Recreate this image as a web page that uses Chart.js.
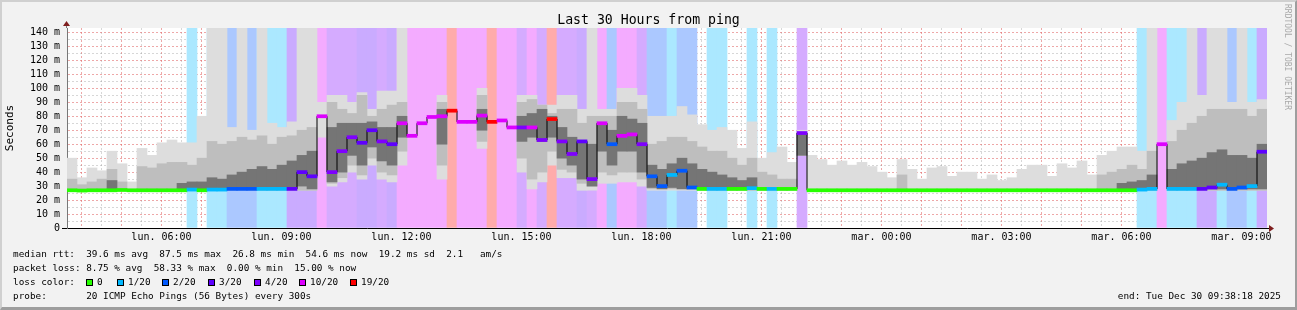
<!DOCTYPE html>
<html>
<head>
<meta charset="utf-8">
<script src="https://cdn.jsdelivr.net/npm/chart.js@4/dist/chart.umd.min.js"></script>
<style>
  body { margin: 0; background: #f2f2f2; }
  #wrap { position: relative; width: 1297px; height: 310px; background: #f2f2f2; overflow: hidden;
          font-family: "DejaVu Sans Mono", monospace; color: #000; }
  #chart { position: absolute; left: 0; top: 0; }
  .txt { position: absolute; white-space: pre; }
  #title { left: 0; width: 1297px; top: 12px; text-align: center; font-size: 13.2px; line-height: 16px; }
  .leg { left: 13px; font-size: 9.35px; line-height: 14px; }
  .sw { position: absolute; width: 5px; height: 5px; border: 1px solid #000; }
  #credit { left: 1283px; top: 4px; font-size: 8px; color: #a9a9a9; writing-mode: vertical-rl; }
  #frame { position: absolute; left: 0; top: 0; width: 1297px; height: 310px; box-sizing: border-box;
           border-top: 2px solid #d0d0d0; border-left: 2px solid #d0d0d0;
           border-right: 2px solid #9e9e9e; border-bottom: 3px solid #9e9e9e; pointer-events: none; }
</style>
</head>
<body>
<div id="wrap">
  <canvas id="chart" width="1297" height="310"></canvas>
  <div id="title" class="txt">Last 30 Hours from ping</div>
  <div id="credit" class="txt">RRDTOOL / TOBI OETIKER</div>
  <div class="txt leg" style="top:247px">median rtt:  39.6 ms avg  87.5 ms max  26.8 ms min  54.6 ms now  19.2 ms sd  2.1   am/s</div>
  <div class="txt leg" style="top:261px">packet loss: 8.75 % avg  58.33 % max  0.00 % min  15.00 % now</div>
  <div class="txt leg" style="top:275px" id="lossLine">loss color:</div>
  <div class="txt leg" style="top:289px">probe:       20 ICMP Echo Pings (56 Bytes) every 300s</div>
  <div class="txt leg" style="top:289px; left:auto; right:16px">end: Tue Dec 30 09:38:18 2025</div>
  <div id="frame"></div>
</div>
<script>
// 120 steps of 15 minutes, from Mon 03:38:18 to Tue 09:38:18
const startHour = 3 + 38 / 60 + 18 / 3600;
const stepHours = 0.25;

// loss level per step (index into lossNames / lossColors)
const lossNames = ["0", "1/20", "2/20", "3/20", "4/20", "10/20", "19/20"];
const lossColors = ["#26ff00", "#00b8ff", "#0059ff", "#5e00ff", "#7e00ff", "#dd00ff", "#ff0000"];
const lossBandColors = [null, "#abe8ff", "#abc8ff", "#caabff", "#d5abff", "#f4abff", "#ffabab"];

const lossLevel = [
  0, 0, 0, 0, 0, 0, 0, 0, 0, 0,
  0, 0, 1, 0, 1, 1, 2, 2, 2, 1,
  1, 1, 3, 3, 3, 5, 4, 4, 4, 3,
  3, 4, 3, 5, 5, 5, 5, 5, 6, 5,
  5, 5, 6, 5, 5, 4, 5, 4, 6, 4,
  4, 3, 4, 5, 2, 5, 5, 4, 2, 2,
  1, 2, 2, 0, 1, 1, 0, 0, 1, 0,
  1, 0, 0, 4, 0, 0, 0, 0, 0, 0,
  0, 0, 0, 0, 0, 0, 0, 0, 0, 0,
  0, 0, 0, 0, 0, 0, 0, 0, 0, 0,
  0, 0, 0, 0, 0, 0, 0, 1, 1, 5,
  1, 1, 1, 3, 3, 1, 2, 2, 1, 3
];

// median rtt (ms)
const medianRtt = [
  27, 26.8, 27, 27, 27, 27.2, 27, 27, 27, 27,
  27, 27, 27.5, 27, 27.5, 27.5, 28, 28, 28, 28,
  28, 28, 28, 40, 37, 80, 40, 55, 65, 61,
  70, 62, 60, 75, 66, 75, 79.5, 80, 84, 76,
  76, 80.5, 76, 77, 72, 72, 72, 63, 78, 62,
  53, 62, 35, 75, 60, 66, 67, 60, 37, 30,
  38, 41, 29, 28, 28, 28, 28, 28, 28.5, 28,
  28, 28, 28, 68, 27, 27, 27, 27, 27, 27,
  27, 27, 27, 27, 27, 27, 27, 27, 27, 27,
  27, 27, 27, 27, 27, 27, 27, 27, 27, 27,
  27, 27, 27, 27, 27, 27, 27, 27.5, 28, 60,
  28, 28, 28, 28, 29, 31, 28, 29, 30, 54.6
];

// smoke: outer range (150 = above the top of the graph)
const smokeMin = [
  27, 27, 27, 27, 27, 27, 27, 27, 27, 27,
  27, 27, 27, 27, 27, 27, 27, 27, 27, 27,
  27, 27, 27, 27, 27, 65, 30, 33, 40, 35,
  45, 35, 33, 45, null, null, null, 35, null, null,
  null, 57, null, null, null, 40, 28, 33, 45, 36,
  36, 27, 27, 32, 32, 33, 33, 30, 27, 27,
  27, 27, 27, 27, 27, 27, 27, 27, 27, 27,
  27, 27, 27, 52, 27, 27, 27, 27, 27, 27,
  27, 27, 27, 27, 27, 27, 27, 27, 27, 27,
  27, 27, 27, 27, 27, 27, 27, 27, 27, 27,
  27, 27, 27, 27, 27, 27, 27, 27, 27, null,
  27, 27, 27, 27, 27, 27, 27, 27, 27, 27
];
const smokeMax = [
  50, 36, 43, 41, 55, 46, 33, 57, 52, 61,
  63, 61, 61, 80, 150, 150, 72, 150, 70, 150,
  75, 72, 76, 150, 150, 90, 95, 95, 90, 97,
  85, 98, 98, 150, null, null, null, 95, null, null,
  null, 100, null, null, null, 95, 95, 88, 88, 95,
  95, 85, 150, 85, 85, 100, 100, 95, 80, 80,
  80, 87, 81, 74, 70, 72, 70, 57, 76, 50,
  54, 58, 47, 70, 52, 49, 45, 48, 45, 47,
  44, 40, 36, 49, 42, 35, 43, 44, 37, 40,
  40, 35, 38, 34, 36, 42, 45, 45, 37, 46,
  43, 48, 38, 52, 55, 58, 58, 55, 150, null,
  77, 90, 150, 95, 150, 150, 90, 150, 90, 92
];

// smoke: middle band
const midLow = [
  27, 27, 27, 27, 27, 27, null, 27, 27, 27,
  27, 27, 27, 27, 27, 27, 27, 27, 27, 27,
  27, 27, 27, 27, 27, null, 32, 36, 45, 38,
  50, 40, 38, 55, null, null, null, 45, null, null,
  null, 62, null, null, null, 50, 35, 40, 55, 42,
  40, 32, 30, 40, 38, 40, 40, 35, 28, 28,
  28, 28, 28, 27, 27, 27, 27, 27, 27, 27,
  27, 27, 27, null, null, null, null, null, null, null,
  null, null, null, 27, null, null, null, null, null, null,
  null, null, null, null, null, null, null, null, null, null,
  null, null, null, 27, 27, 27, 27, 27, 27, null,
  27, 27, 27, 27, 27, 27, 27, 27, 27, 27
];
const midHigh = [
  35, 31, 33, 35, 42, 33, null, 44, 43, 46,
  47, 47, 45, 50, 62, 60, 62, 65, 63, 66,
  60, 65, 66, 70, 72, null, 90, 85, 82, 95,
  80, 85, 88, 90, null, null, null, 90, null, null,
  null, 95, null, null, null, 90, 92, 88, 82, 85,
  85, 75, 80, 80, 80, 90, 90, 85, 60, 62,
  65, 65, 62, 58, 55, 55, 50, 45, 50, 40,
  38, 35, 35, null, null, null, null, null, null, null,
  null, null, null, 38, null, null, null, null, null, null,
  null, null, null, null, null, null, null, null, null, null,
  null, null, null, 38, 40, 42, 45, 42, 55, null,
  62, 70, 75, 80, 85, 85, 85, 85, 80, 85
];

// smoke: dark core
const coreLow = [
  null, null, null, null, 28, null, null, null, null, null,
  null, 28, 28, 28, 28, 28, 28, 28, 28, 28,
  28, 28, 28, 30, 28, null, 33, 40, 52, 45,
  58, 48, 45, 65, null, null, null, 60, null, null,
  null, 70, null, null, null, 62, 65, 62, 65, 50,
  45, 35, 30, 55, 45, 55, 55, 40, 29, 28,
  29, 28, 28, 28, 28, 28, 28, 28, 28, null,
  null, null, null, 52, null, null, null, null, null, null,
  null, null, null, null, null, null, null, null, null, null,
  null, null, null, null, null, null, null, null, null, null,
  null, null, null, null, null, 28, 28, 28, 28, null,
  28, 28, 28, 28, 28, 28, 28, 28, 28, 28
];
const coreHigh = [
  null, null, null, null, 34, null, null, null, null, null,
  null, 32, 33, 33, 36, 35, 38, 40, 42, 44,
  42, 45, 48, 52, 55, null, 72, 75, 75, 75,
  76, 72, 72, 80, null, null, null, 85, null, null,
  null, 85, null, null, null, 80, 82, 85, 80, 72,
  65, 62, 60, 75, 70, 80, 78, 75, 45, 42,
  46, 50, 46, 42, 40, 38, 36, 34, 36, null,
  null, null, null, 68, null, null, null, null, null, null,
  null, null, null, null, null, null, null, null, null, null,
  null, null, null, null, null, null, null, null, null, null,
  null, null, null, null, null, 32, 33, 34, 38, null,
  42, 46, 48, 50, 54, 56, 52, 52, 50, 60
];

const yTicks = [];
for (let v = 0; v <= 140; v += 5) yTicks.push(v);
const yTop = 143.2;

const xTicks = [];
for (let h = 4; h < startHour + 30; h += 0.5) xTicks.push(h);

function two(n) { return String(n).padStart(2, "0"); }

const stepLabels = medianRtt.map((_, i) => {
  const t = startHour + i * stepHours;
  const m = Math.round(t * 60);
  return two(Math.floor(m / 60) % 24) + ":" + two(m % 60);
});

function range(lo, hi) {
  return lo.map((v, i) => (v == null || hi[i] == null) ? null : [v, hi[i]]);
}

// loss color legend
const lossSwatchX = [86, 117, 162, 208, 254, 299, 350];
const lossLine = document.getElementById("lossLine");
lossNames.forEach((name, i) => {
  const box = document.createElement("div");
  box.className = "sw";
  box.style.left = (lossSwatchX[i] - 13) + "px";
  box.style.top = "4px";
  box.style.background = lossColors[i];
  lossLine.appendChild(box);
  const t = document.createElement("span");
  t.className = "txt";
  t.style.left = (lossSwatchX[i] - 13 + 11) + "px";
  t.style.top = "0px";
  t.textContent = name;
  lossLine.appendChild(t);
});

const canvasBack = {
  id: "canvasBack",
  beforeDraw(c) {
    const a = c.chartArea;
    c.ctx.save();
    c.ctx.fillStyle = "#ffffff";
    c.ctx.fillRect(a.left, a.top, a.right - a.left, a.bottom - a.top);
    c.ctx.restore();
  }
};

const axisArrows = {
  id: "axisArrows",
  afterDraw(c) {
    const a = c.chartArea;
    const ctx = c.ctx;
    ctx.save();
    ctx.strokeStyle = "#777";
    ctx.lineWidth = 1;
    ctx.beginPath();
    ctx.moveTo(a.left - 0.5, a.top);
    ctx.lineTo(a.left - 0.5, a.top - 4);
    ctx.stroke();
    ctx.strokeStyle = "#000";
    ctx.beginPath();
    ctx.moveTo(a.left - 5, a.bottom + 0.5);
    ctx.lineTo(a.left, a.bottom + 0.5);
    ctx.moveTo(a.right, a.bottom + 0.5);
    ctx.lineTo(a.right + 2, a.bottom + 0.5);
    ctx.stroke();
    ctx.fillStyle = "#7f1f1f";
    ctx.beginPath();
    ctx.moveTo(a.left - 0.5, a.top - 7);
    ctx.lineTo(a.left - 4, a.top - 2);
    ctx.lineTo(a.left + 3, a.top - 2);
    ctx.closePath();
    ctx.fill();
    ctx.beginPath();
    ctx.moveTo(a.right + 7, a.bottom + 0.5);
    ctx.lineTo(a.right + 2, a.bottom - 3);
    ctx.lineTo(a.right + 2, a.bottom + 4);
    ctx.closePath();
    ctx.fill();
    ctx.restore();
  }
};

const barBase = { type: "bar", xAxisID: "xc", yAxisID: "y", grouped: false,
  barPercentage: 1, categoryPercentage: 1, borderWidth: 0 };

new Chart(document.getElementById("chart"), {
  data: {
    labels: stepLabels,
    datasets: [
      Object.assign({}, barBase, {
        label: "median mark", order: 0,
        data: medianRtt.map(m => [m - 1.1, m + 1.1]),
        backgroundColor: lossLevel.map(l => lossColors[l])
      }),
      {
        type: "line", label: "median", order: 1, xAxisID: "xc", yAxisID: "y",
        data: medianRtt, stepped: "middle", borderColor: "#000", borderWidth: 1,
        pointRadius: 0, fill: false
      },
      Object.assign({}, barBase, {
        label: "core", order: 2, data: range(coreLow, coreHigh), backgroundColor: "#757575"
      }),
      Object.assign({}, barBase, {
        label: "mid", order: 3, data: range(midLow, midHigh), backgroundColor: "#bebebe"
      }),
      Object.assign({}, barBase, {
        label: "smoke", order: 4, data: range(smokeMin, smokeMax), backgroundColor: "#dddddd"
      }),
      Object.assign({}, barBase, {
        label: "loss", order: 5,
        data: lossLevel.map(l => l > 0 ? [0, 150] : null),
        backgroundColor: lossLevel.map(l => lossBandColors[l] || "rgba(0,0,0,0)")
      })
    ]
  },
  options: {
    responsive: false,
    animation: false,
    devicePixelRatio: 1,
    layout: { padding: { left: 0, right: 30, top: 28, bottom: 0 } },
    plugins: { legend: { display: false }, tooltip: { enabled: false }, title: { display: false } },
    scales: {
      xc: { type: "category", display: false, offset: true },
      x: {
        type: "linear", position: "bottom", z: 1,
        min: startHour, max: startHour + 30,
        afterBuildTicks: axis => { axis.ticks = xTicks.map(v => ({ value: v })); },
        afterFit: axis => { axis.height = 82; },
        grid: {
          drawTicks: false, lineWidth: 1,
          color: ctx => (ctx.tick && ctx.tick.value % 1 === 0) ? "rgba(224,96,96,0.55)" : "rgba(140,140,140,0.35)"
        },
        border: { display: true, color: "#000", width: 1, dash: [2, 2] },
        ticks: {
          autoSkip: false, maxRotation: 0, padding: 3, color: "#000",
          font: { family: "DejaVu Sans Mono", size: 10 },
          callback: v => {
            if (v % 3 !== 0) return "";
            return (v < 24 ? "lun. " : "mar. ") + two(v % 24) + ":00";
          }
        }
      },
      y: {
        type: "linear", position: "left", z: 1,
        min: 0, max: yTop,
        afterBuildTicks: axis => { axis.ticks = yTicks.map(v => ({ value: v })); },
        afterFit: axis => { axis.width = 67; },
        grid: {
          drawTicks: false, lineWidth: 1,
          color: ctx => (ctx.tick && ctx.tick.value % 10 === 0) ? "rgba(224,96,96,0.55)" : "rgba(140,140,140,0.35)"
        },
        border: { display: true, color: "#777", width: 1, dash: [2, 2] },
        title: {
          display: true, text: "Seconds", color: "#000",
          font: { family: "DejaVu Sans Mono", size: 11 }, padding: { top: 4, bottom: 0 }
        },
        ticks: {
          autoSkip: false, padding: 7, color: "#000",
          font: { family: "DejaVu Sans Mono", size: 10 },
          callback: v => v % 10 !== 0 ? "" : (v === 0 ? "0" : v + " m")
        }
      }
    }
  },
  plugins: [canvasBack, axisArrows]
});
</script>
</body>
</html>
